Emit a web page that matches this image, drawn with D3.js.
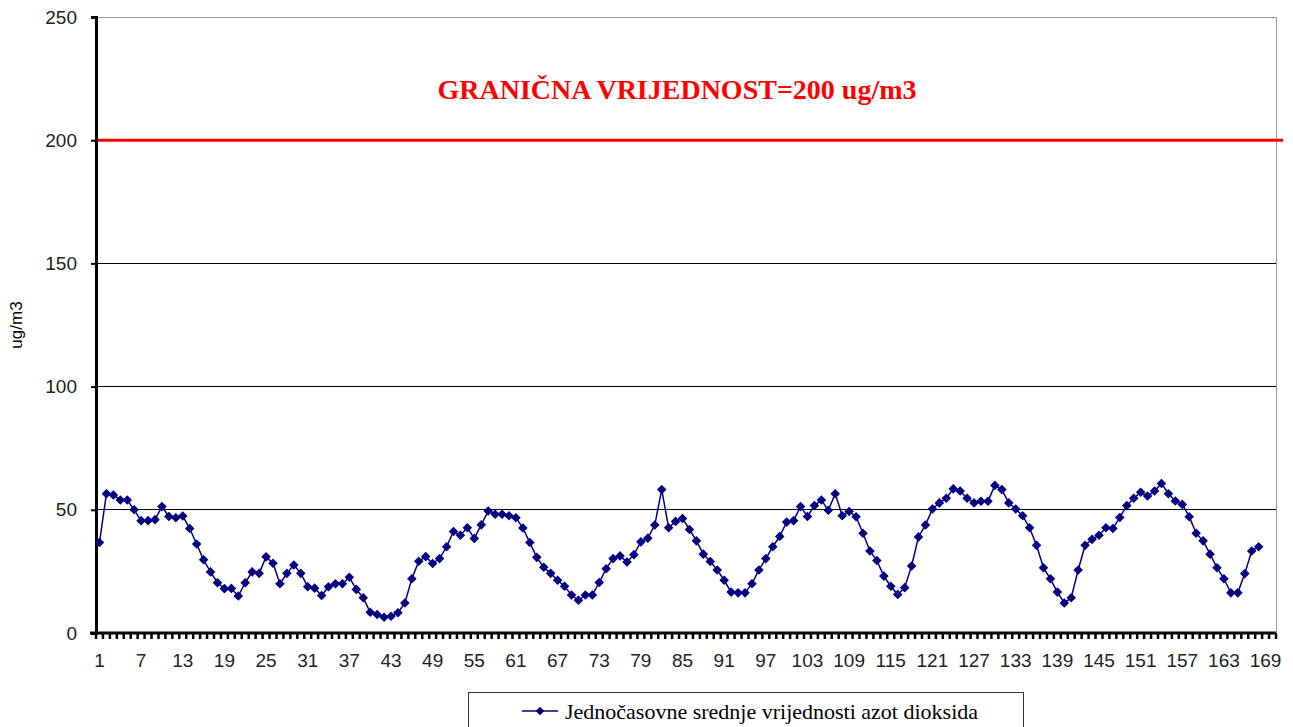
<!DOCTYPE html>
<html>
<head>
<meta charset="utf-8">
<script src="https://cdn.jsdelivr.net/npm/d3@7"></script>
<style>
  body { margin: 0; background: #fff; }
</style>
</head>
<body>
<script>
// hourly NO2 means, one per category (1..168)
const no2 = [
  36.7, 56.5, 56, 54, 54, 50, 45.6, 45.6, 46, 51.3,
  47.3, 46.8, 47.5, 42.4, 36.1, 29.7, 24.8, 20.4, 18, 18.1,
  15, 20.4, 24.8, 24.2, 30.9, 28.3, 20, 24.2, 27.6, 24.2,
  18.8, 18.2, 15.2, 18.8, 20, 20, 22.6, 17.7, 14.3, 8.4,
  7.5, 6.4, 6.8, 8.2, 12.2, 22, 29.1, 31, 28.2, 30.2,
  35, 41.2, 39.7, 42.7, 38.4, 43.9, 49.5, 48.2, 48.2, 47.6,
  46.8, 42.6, 36.7, 30.7, 26.7, 24.2, 21.4, 19, 15.4, 13.3,
  15.4, 15.4, 20.5, 26.1, 30.2, 31.3, 28.8, 31.8, 37, 38.5,
  43.8, 58.2, 42.7, 45.3, 46.5, 42, 37.4, 32, 29, 25.6,
  21.4, 16.6, 16.3, 16.3, 20, 25.6, 30.2, 35, 39.2, 45,
  45.6, 51.3, 47.3, 51.7, 54, 49.8, 56.5, 47.6, 49.3, 47.2,
  40.5, 33.3, 29.4, 23.1, 19, 15.6, 18.4, 27.2, 39, 43.8,
  50.3, 52.8, 54.7, 58.5, 57.6, 54.7, 52.8, 53.5, 53.5, 59.9,
  58.2, 52.8, 50.3, 47.6, 42.7, 35.6, 26.5, 22, 16.6, 12.2,
  14.3, 25.6, 35.6, 38, 39.7, 42.7, 42.4, 46.9, 51.7, 54.7,
  57.1, 55.6, 57.6, 60.7, 56.5, 53.6, 52.2, 47.2, 40.5, 37.4,
  32, 26.5, 22, 16.3, 16.3, 24.1, 33.3, 35
];
const categoryCount = 170;
const xLabels = [1, 7, 13, 19, 25, 31, 37, 43, 49, 55, 61, 67, 73, 79, 85, 91, 97,
  103, 109, 115, 121, 127, 133, 139, 145, 151, 157, 163, 169];
const yTicks = [0, 50, 100, 150, 200, 250];
const limitValue = 200;
const limitLabel = "GRANIČNA VRIJEDNOST=200 ug/m3";
const yTitle = "ug/m3";
const seriesName = "Jednočasovne srednje vrijednosti azot dioksida";

const W = 1293, H = 727;
const plot = { left: 96, right: 1276, top: 17, bottom: 633 };
const NAVY = "#000080";
const SERIF = "'Liberation Serif', 'DejaVu Serif', serif";
const SANS = "'Liberation Sans', Arial, sans-serif";

const svg = d3.select("body").append("svg")
  .attr("width", W).attr("height", H);

const x = d3.scaleLinear().domain([0.5, categoryCount + 0.5]).range([plot.left, plot.right]);
const y = d3.scaleLinear().domain([0, 250]).range([plot.bottom, plot.top]);

// gridlines
svg.append("g").selectAll("line")
  .data(yTicks.filter(v => v > 0 && v !== limitValue))
  .join("line")
  .attr("x1", plot.left).attr("x2", plot.right)
  .attr("y1", d => y(d)).attr("y2", d => y(d))
  .attr("stroke", d => d === 250 ? "#999" : "#000")
  .attr("stroke-width", 1)
  .attr("shape-rendering", "crispEdges");

// right border
svg.append("line")
  .attr("x1", plot.right).attr("x2", plot.right)
  .attr("y1", plot.top).attr("y2", plot.bottom)
  .attr("stroke", "#999").attr("shape-rendering", "crispEdges");

// limit line
svg.append("line")
  .attr("x1", plot.left).attr("x2", 1283)
  .attr("y1", y(limitValue)).attr("y2", y(limitValue))
  .attr("stroke", "#ff0000").attr("stroke-width", 3);

svg.append("text")
  .attr("x", 677).attr("y", 99)
  .attr("text-anchor", "middle")
  .attr("fill", "#ff0000")
  .attr("font-weight", "bold")
  .attr("font-size", 28)
  .style("font-family", SERIF)
  .text(limitLabel);

// y axis
const yAxis = d3.axisLeft(y).tickValues(yTicks).tickSize(5).tickPadding(14);
const gy = svg.append("g")
  .attr("transform", `translate(${plot.left},0)`)
  .call(yAxis);
gy.select(".domain").attr("stroke", "#000").attr("stroke-width", 3);
gy.selectAll(".tick line").attr("stroke", "#000").attr("stroke-width", 2);
gy.selectAll(".tick text").attr("font-size", 19).attr("fill", "#222")
  .style("font-family", SANS);

// x axis: a tick at every category boundary, labels every 6th category
const gx = svg.append("g").attr("transform", `translate(0,${plot.bottom})`);
gx.append("line")
  .attr("x1", plot.left - 6).attr("x2", plot.right)
  .attr("y1", 0).attr("y2", 0)
  .attr("stroke", "#000").attr("stroke-width", 3);
gx.selectAll("line.tk")
  .data(d3.range(0, categoryCount + 1))
  .join("line")
  .attr("class", "tk")
  .attr("x1", d => x(d + 0.5)).attr("x2", d => x(d + 0.5))
  .attr("y1", 0).attr("y2", 6)
  .attr("stroke", "#000").attr("stroke-width", 2.5);
gx.selectAll("text")
  .data(xLabels)
  .join("text")
  .attr("x", d => x(d)).attr("y", 34)
  .attr("text-anchor", "middle")
  .attr("font-size", 19)
  .attr("fill", "#222")
  .style("font-family", SANS)
  .text(d => d);

// y title
svg.append("text")
  .attr("transform", `translate(22,${(plot.top + plot.bottom) / 2}) rotate(-90)`)
  .attr("text-anchor", "middle")
  .attr("font-size", 17)
  .style("font-family", SANS)
  .text(yTitle);

// series
const line = d3.line()
  .x((d, i) => x(i + 1))
  .y(d => y(d));
svg.append("path")
  .attr("d", line(no2))
  .attr("fill", "none")
  .attr("stroke", NAVY)
  .attr("stroke-width", 1.5);

const diamond = d3.symbol(d3.symbolSquare, 46);
svg.append("g").selectAll("path")
  .data(no2)
  .join("path")
  .attr("d", diamond)
  .attr("transform", (d, i) => `translate(${x(i + 1)},${y(d)}) rotate(45)`)
  .attr("fill", NAVY);

// legend
const lg = svg.append("g");
lg.append("rect")
  .attr("x", 468.5).attr("y", 692.5)
  .attr("width", 555).attr("height", 45)
  .attr("fill", "#fff").attr("stroke", "#333");
lg.append("line")
  .attr("x1", 522).attr("x2", 558).attr("y1", 711).attr("y2", 711)
  .attr("stroke", NAVY).attr("stroke-width", 1.5);
lg.append("path")
  .attr("d", d3.symbol(d3.symbolSquare, 38))
  .attr("transform", "translate(540,711) rotate(45)")
  .attr("fill", NAVY);
lg.append("text")
  .attr("x", 565).attr("y", 719)
  .attr("font-size", 22)
  .style("font-family", SERIF)
  .text(seriesName);
</script>
</body>
</html>
